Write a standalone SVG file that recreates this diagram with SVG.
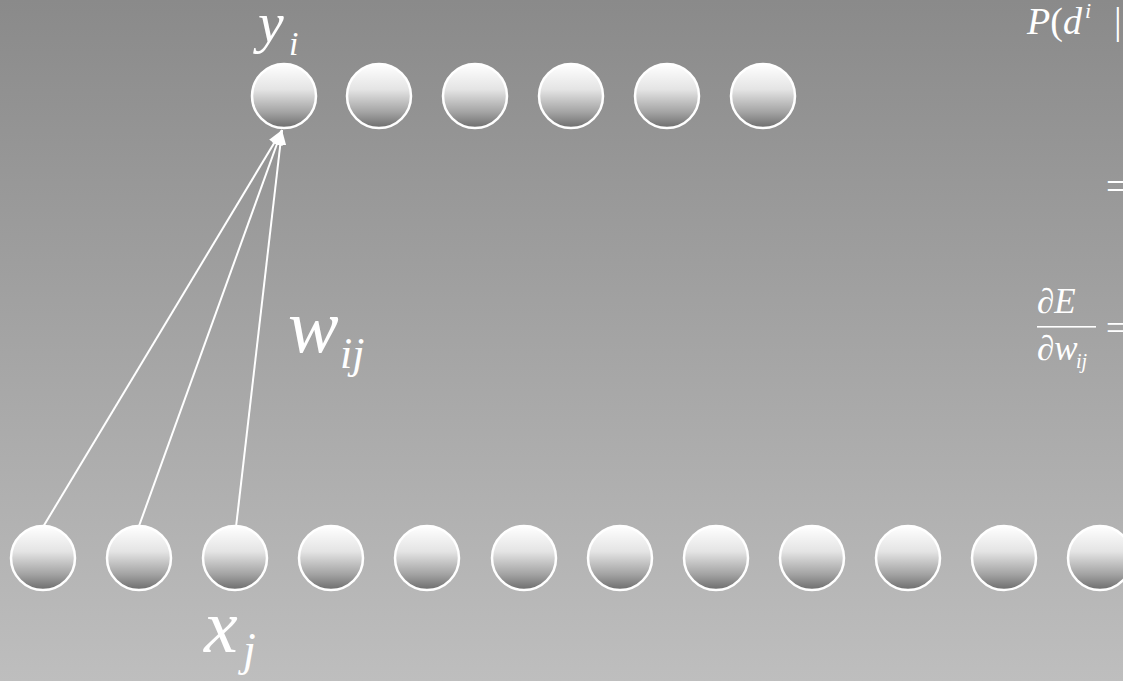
<svg xmlns="http://www.w3.org/2000/svg" width="1123" height="681" viewBox="0 0 1123 681">
<defs>
<linearGradient id="bg" x1="0" y1="0" x2="0" y2="1">
<stop offset="0" stop-color="#8a8a8a"/>
<stop offset="1" stop-color="#bebebe"/>
</linearGradient>
<linearGradient id="ball" x1="0" y1="0" x2="0" y2="1">
<stop offset="0" stop-color="#ffffff"/>
<stop offset="0.4" stop-color="#e4e4e4"/>
<stop offset="0.75" stop-color="#a4a4a4"/>
<stop offset="1" stop-color="#6c6c6c"/>
</linearGradient>
<marker id="arr" markerUnits="userSpaceOnUse" markerWidth="16" markerHeight="12" refX="15" refY="6" orient="auto">
<path d="M0,0 L15,6 L0,12 z" fill="#ffffff"/>
</marker>
</defs>
<style>
.node circle{fill:url(#ball);stroke:#ffffff;stroke-width:2.5}
.edge{stroke:#ffffff;stroke-width:2;fill:none;marker-end:url(#arr)}
.m{font-family:"Liberation Serif","Times New Roman","DejaVu Serif",serif;font-style:italic;fill:#ffffff}
.r{font-family:"Liberation Serif","Times New Roman","DejaVu Serif",serif;font-style:normal;fill:#ffffff}
</style>
<rect x="0" y="0" width="1123" height="681" fill="url(#bg)"/>
<g id="connectors">
<line class="edge" x1="43" y1="527" x2="282" y2="130"/>
<line class="edge" x1="139" y1="526" x2="282" y2="130"/>
<line class="edge" x1="236" y1="527" x2="282" y2="130"/>
</g>
<g id="top-row">
<g id="y1" class="node"><circle cx="284" cy="96" r="32"/></g>
<g id="y2" class="node"><circle cx="379" cy="96" r="32"/></g>
<g id="y3" class="node"><circle cx="475" cy="96" r="32"/></g>
<g id="y4" class="node"><circle cx="571" cy="96" r="32"/></g>
<g id="y5" class="node"><circle cx="667" cy="96" r="32"/></g>
<g id="y6" class="node"><circle cx="763" cy="96" r="32"/></g>
</g>
<g id="bottom-row">
<g id="x1" class="node"><circle cx="43" cy="558" r="32"/></g>
<g id="x2" class="node"><circle cx="139" cy="558" r="32"/></g>
<g id="x3" class="node"><circle cx="235" cy="558" r="32"/></g>
<g id="x4" class="node"><circle cx="331" cy="558" r="32"/></g>
<g id="x5" class="node"><circle cx="427" cy="558" r="32"/></g>
<g id="x6" class="node"><circle cx="524" cy="558" r="32"/></g>
<g id="x7" class="node"><circle cx="620" cy="558" r="32"/></g>
<g id="x8" class="node"><circle cx="716" cy="558" r="32"/></g>
<g id="x9" class="node"><circle cx="812" cy="558" r="32"/></g>
<g id="x10" class="node"><circle cx="908" cy="558" r="32"/></g>
<g id="x11" class="node"><circle cx="1004" cy="558" r="32"/></g>
<g id="x12" class="node"><circle cx="1100" cy="558" r="32"/></g>
</g>
<g id="labels">
<text class="m" x="258" y="42" font-size="58">y</text>
<text class="m" x="289" y="55" font-size="34">i</text>
<text class="m" x="288" y="352" font-size="76">w</text>
<text class="m" x="340" y="368" font-size="44">ij</text>
<text class="m" x="204" y="652" font-size="76">x</text>
<text class="m" x="243" y="665" font-size="46">j</text>
</g>
<g id="equations">
<text class="m" x="1027" y="34" font-size="38">P<tspan class="r">(</tspan>d</text>
<text class="m" x="1085" y="18" font-size="22">i</text>
<text class="r" x="1114" y="34" font-size="38">|</text>
<text class="r" x="1106" y="199" font-size="38">=</text>
<text class="m" x="1037" y="313" font-size="35">∂E</text>
<rect x="1037" y="326" width="59" height="1.6" fill="#ffffff"/>
<text class="m" x="1037" y="360" font-size="35">∂w</text>
<text class="m" x="1076" y="368" font-size="20">ij</text>
<text class="r" x="1106" y="340" font-size="35">=</text>
</g>
</svg>
